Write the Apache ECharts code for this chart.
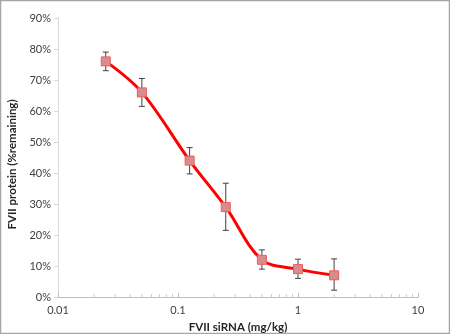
<!DOCTYPE html>
<html>
<head>
<meta charset="utf-8">
<script src="https://cdn.jsdelivr.net/npm/echarts@6/dist/echarts.min.js"></script>
<style>
html,body{margin:0;padding:0;background:#fff;}
#chart{width:450px;height:334px;}
</style>
</head>
<body>
<div id="chart"></div>
<script>
// FVII knockdown dose response
const doses = [0.025, 0.05, 0.125, 0.25, 0.5, 1, 2];          // mg/kg
const remaining = [76, 66, 44, 29, 12, 9, 7];                 // % protein remaining
const errLow = [73, 61.5, 39.7, 21.5, 9, 6, 2.2];
const errHigh = [79, 70.5, 48.2, 36.7, 15.2, 12.2, 12.3];
const minorTickValues = [
  0.02, 0.03, 0.04, 0.05, 0.06, 0.07, 0.08, 0.09,
  0.2, 0.3, 0.4, 0.5, 0.6, 0.7, 0.8, 0.9,
  2, 3, 4, 5, 6, 7, 8, 9
];

const FONT = 'Lato';
const chart = echarts.init(document.getElementById('chart'));

const points = doses.map((d, i) => [d, remaining[i]]);
const bars = doses.map((d, i) => [d, errLow[i], errHigh[i]]);

chart.setOption({
  animation: false,
  graphic: [{
    type: 'rect',
    shape: { x: 0.5, y: 0.5, width: 449, height: 333 },
    style: { fill: 'none', stroke: '#a6a6a6', lineWidth: 1.5 },
    silent: true
  }],
  grid: { left: 58, right: 32, top: 18, bottom: 37, outerBoundsMode: 'none', containLabel: false },
  xAxis: {
    type: 'log',
    logBase: 10,
    min: 0.01,
    max: 10,
    name: 'FVII siRNA (mg/kg)',
    nameLocation: 'middle',
    nameGap: 23,
    nameTextStyle: { fontFamily: FONT, fontWeight: 'bold', fontSize: 11.5, color: '#262626' },
    axisLine: { lineStyle: { color: '#bfbfbf', width: 1 } },
    axisTick: { inside: true, length: 4, lineStyle: { color: '#bfbfbf' } },
    minorTick: { show: false },
    axisLabel: {
      fontFamily: FONT, fontSize: 11, color: '#404040', margin: 8,
      formatter: v => String(+v.toPrecision(3))
    },
    splitLine: { show: false }
  },
  yAxis: {
    type: 'value',
    min: 0,
    max: 90,
    interval: 10,
    name: 'FVII protein (%remaining)',
    nameLocation: 'middle',
    nameGap: 35,
    nameTextStyle: { fontFamily: FONT, fontWeight: 'bold', fontSize: 11.5, color: '#262626', padding: [0, 14, 0, 0] },
    axisLine: { show: true, lineStyle: { color: '#d9d9d9', width: 1 } },
    axisTick: { show: true, length: 4, lineStyle: { color: '#d9d9d9' } },
    axisLabel: { fontFamily: FONT, fontSize: 11, color: '#404040', formatter: '{value}%', margin: 7 },
    splitLine: { show: false }
  },
  series: [
    {
      // minor log ticks along the x axis (2..9 within each decade)
      type: 'scatter',
      data: minorTickValues.map(v => [v, 0]),
      symbol: 'rect',
      symbolSize: [1, 3],
      symbolOffset: [0, -1.5],
      itemStyle: { color: '#bfbfbf' },
      silent: true,
      z: 1
    },
    {
      type: 'line',
      data: points,
      smooth: 0.35,
      lineStyle: { color: '#ff0000', width: 3 },
      symbol: 'rect',
      symbolSize: 9,
      itemStyle: { color: '#d98c8e', borderColor: '#f05a5a', borderWidth: 1 },
      z: 3
    },
    {
      type: 'custom',
      data: bars,
      renderItem: (params, api) => {
        const x = api.value(0);
        const lo = api.coord([x, api.value(1)]);
        const hi = api.coord([x, api.value(2)]);
        const cap = 3;
        const style = { stroke: '#404040', lineWidth: 1 };
        return {
          type: 'group',
          children: [
            { type: 'line', shape: { x1: lo[0], y1: lo[1], x2: hi[0], y2: hi[1] }, style },
            { type: 'line', shape: { x1: lo[0] - cap, y1: lo[1], x2: lo[0] + cap, y2: lo[1] }, style },
            { type: 'line', shape: { x1: hi[0] - cap, y1: hi[1], x2: hi[0] + cap, y2: hi[1] }, style }
          ]
        };
      },
      z: 2
    }
  ]
});
</script>
</body>
</html>
